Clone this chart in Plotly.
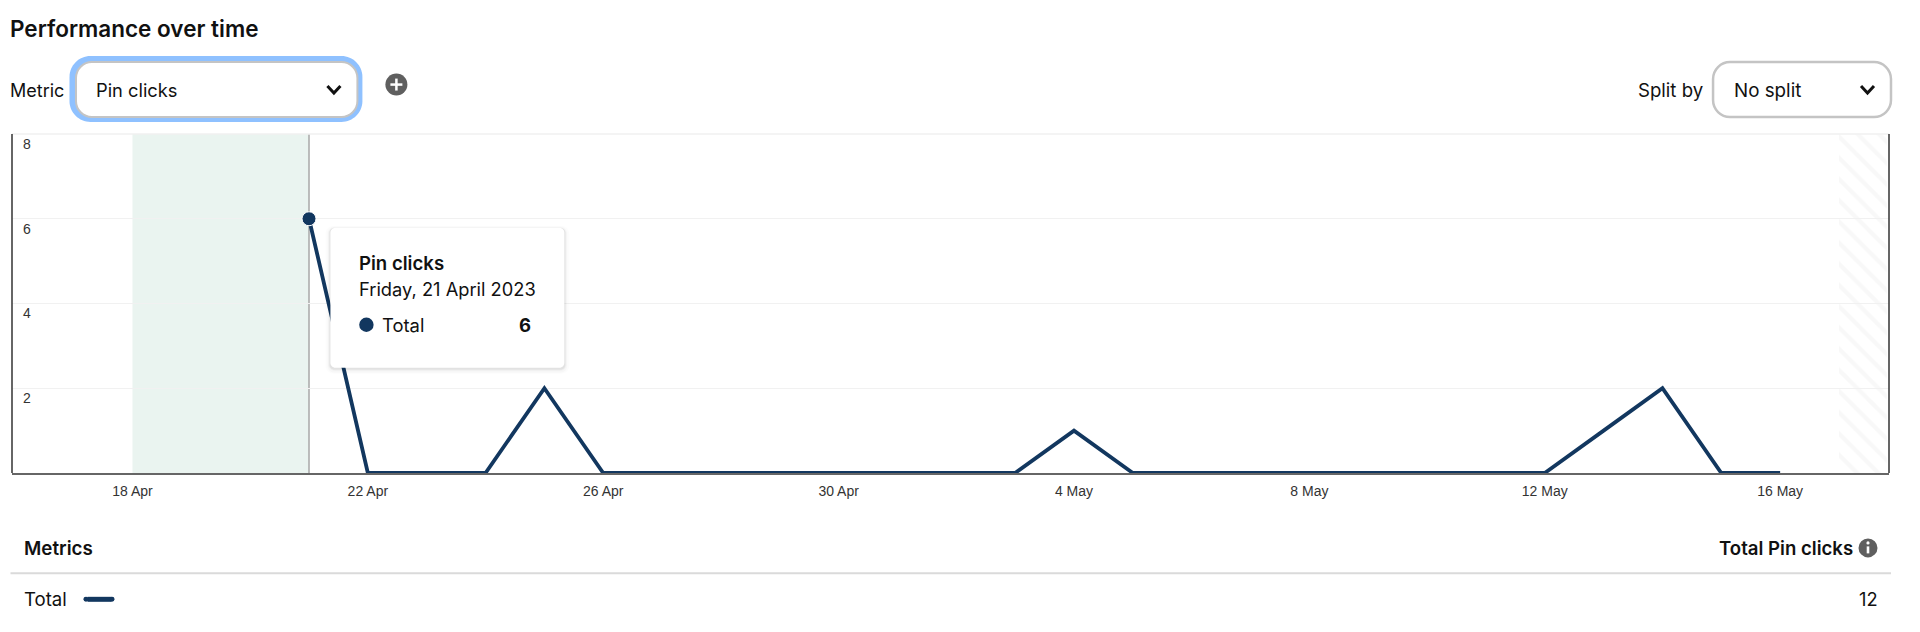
import plotly.graph_objects as go

# ---- data ----
dates = ["2023-04-21", "2023-04-22", "2023-04-23", "2023-04-24", "2023-04-25", "2023-04-26",
         "2023-04-27", "2023-04-28", "2023-04-29", "2023-04-30", "2023-05-01", "2023-05-02",
         "2023-05-03", "2023-05-04", "2023-05-05", "2023-05-06", "2023-05-07", "2023-05-08",
         "2023-05-09", "2023-05-10", "2023-05-11", "2023-05-12", "2023-05-13", "2023-05-14",
         "2023-05-15", "2023-05-16"]
pin_clicks = [6, 0, 0, 0, 2, 0, 0, 0, 0, 0, 0, 0, 0, 1, 0, 0, 0, 0, 0, 0, 0, 0, 1, 2, 0, 0]
x_tick_vals = ["2023-04-18", "2023-04-22", "2023-04-26", "2023-04-30", "2023-05-04",
               "2023-05-08", "2023-05-12", "2023-05-16"]
x_tick_text = ["18 Apr", "22 Apr", "26 Apr", "30 Apr", "4 May", "8 May", "12 May", "16 May"]
y_tick_vals = [2, 4, 6, 8]
x_range = ["2023-04-15 22:52", "2023-05-17 20:24"]
green_band = ["2023-04-18", "2023-04-21"]
hatch_band = ["2023-05-17", "2023-05-17 19:30"]
highlight_date = "2023-04-21"
highlight_value = 6
total_clicks = 12

NAVY = "#12375F"
W, H = 1920, 632
UI = "Inter"
TXT = "#111111"

L, R, T, B = 11.5, 1889, 134, 473.5


def X(x):
    return (x - L) / (R - L)


def Y(y):
    return (B - y) / (B - T)


def rrect(x0, y0, x1, y1, r):
    k = r * 0.45
    pts = [
        f"M{X(x0 + r)},{Y(y0)}", f"L{X(x1 - r)},{Y(y0)}",
        f"C{X(x1 - k)},{Y(y0)} {X(x1)},{Y(y0 + k)} {X(x1)},{Y(y0 + r)}",
        f"L{X(x1)},{Y(y1 - r)}",
        f"C{X(x1)},{Y(y1 - k)} {X(x1 - k)},{Y(y1)} {X(x1 - r)},{Y(y1)}",
        f"L{X(x0 + r)},{Y(y1)}",
        f"C{X(x0 + k)},{Y(y1)} {X(x0)},{Y(y1 - k)} {X(x0)},{Y(y1 - r)}",
        f"L{X(x0)},{Y(y0 + r)}",
        f"C{X(x0)},{Y(y0 + k)} {X(x0 + k)},{Y(y0)} {X(x0 + r)},{Y(y0)}", "Z",
    ]
    return " ".join(pts)


def box(x0, y0, x1, y1, r, fill, line=None, lw=0):
    return dict(type="path", xref="paper", yref="paper", layer="above", path=rrect(x0, y0, x1, y1, r),
                fillcolor=fill, line=dict(color=line or fill, width=lw))


def poly(points, color, lw):
    p = "M" + " L".join(f"{X(a)},{Y(b)}" for a, b in points)
    return dict(type="path", xref="paper", yref="paper", layer="above", path=p,
                line=dict(color=color, width=lw))


def circle(cx, cy, r, fill):
    return dict(type="circle", xref="paper", yref="paper", layer="above",
                x0=X(cx - r), x1=X(cx + r), y0=Y(cy + r), y1=Y(cy - r),
                fillcolor=fill, line=dict(width=0))


def text(x, y, s, size=18.3, weight=400, anchor="left", color=TXT):
    dx = -2 if anchor == "left" else 1.5
    return dict(xref="paper", yref="paper", x=X(x + dx), y=Y(y), text=s, showarrow=False,
                xanchor=anchor, yanchor="middle", align=anchor, borderpad=0,
                font=dict(family=UI, size=size, weight=weight, color=color))


fig = go.Figure()
fig.add_trace(go.Scatter(
    x=[hatch_band[0], hatch_band[1], hatch_band[1], hatch_band[0], hatch_band[0]],
    y=[0, 0, 8, 8, 0], mode="none", fill="toself", fillcolor="rgba(255,255,255,0)",
    fillpattern=dict(shape="\\", size=15, solidity=0.28, fgcolor="#F1F1F1",
                     bgcolor="rgba(255,255,255,0)"),
    hoverinfo="skip", showlegend=False))
fig.add_trace(go.Scatter(x=dates, y=pin_clicks, mode="lines", line=dict(color=NAVY, width=3.8),
                         showlegend=False))
fig.add_trace(go.Scatter(x=[highlight_date], y=[highlight_value], mode="markers",
                         marker=dict(color=NAVY, size=14, line=dict(color="white", width=1)),
                         showlegend=False))

shapes = [
    dict(type="rect", xref="x", yref="paper", x0=green_band[0], x1=green_band[1], y0=0, y1=1,
         fillcolor="#EAF4F0", line=dict(width=0), layer="below"),
    dict(type="line", xref="x", yref="paper", x0=highlight_date, x1=highlight_date, y0=0, y1=1,
         line=dict(color="#A8A8A8", width=1.5), layer="below"),
    dict(type="line", xref="paper", yref="paper", x0=0, x1=1, y0=1, y1=1,
         line=dict(color="#F1F1F1", width=1.5), layer="below"),
    # metric select
    box(69, 56, 362, 122, 21, "#8FC1FF"),
    box(75.5, 62, 357, 117, 16, "white", "#C4C4C4", 2),
    poly([(327, 86), (333.5, 93), (340, 86)], "#111111", 3),
    # add metric icon
    circle(396, 84.5, 11, "#5F5F5F"),
    poly([(390, 84.5), (402, 84.5)], "white", 2.5),
    poly([(396, 78.5), (396, 90.5)], "white", 2.5),
    # split select
    box(1713, 62, 1891, 117, 17, "white", "#C4C4C4", 2.5),
    poly([(1861, 86), (1867.5, 93), (1874, 86)], "#111111", 3),
    # tooltip shadow + body
    box(325, 226, 569, 374, 8, "rgba(0,0,0,0.012)"),
    box(327, 227, 567, 373, 7, "rgba(0,0,0,0.02)"),
    box(328, 228, 566, 371, 6, "rgba(0,0,0,0.03)"),
    box(329, 228, 565, 370, 5, "rgba(0,0,0,0.05)"),
    box(330, 228, 564, 368, 5, "white"),
    circle(366, 325, 7.2, NAVY),
    # table
    poly([(10, 574), (1891, 574)], "#DADADA", 2),
    poly([(87, 600), (111, 600)], NAVY, 5),
    circle(85.5, 600, 2.5, NAVY), circle(111.5, 600, 2.5, NAVY),
    circle(1868, 548.5, 9.5, "#5F5F5F"),
    poly([(1868, 547), (1868, 554)], "white", 2.6),
    circle(1868, 543.5, 1.6, "white"),
]

annotations = [
    text(10, 28.5, "Performance over time", size=22.5, weight=600),
    text(10, 90, "Metric", size=18),
    text(97, 90, "Pin clicks"),
    text(1702, 90, "Split by", anchor="right", size=18.6),
    text(1734.5, 90, "No split", size=18.8),
    text(359.5, 263, "Pin clicks", weight=600, size=18.6),
    text(359.5, 289, "Friday, 21 April 2023", size=18.3),
    text(383, 325, "Total", size=18.4),
    text(530, 325, str(highlight_value), weight=700, anchor="right", size=18.5),
    text(25, 549, "Metrics", weight=600, size=18.8),
    text(25, 600, "Total", size=18.6),
    text(1852, 549, "Total Pin clicks", weight=600, anchor="right", size=18.6),
    text(1877, 600, str(total_clicks), anchor="right"),
]

fig.update_layout(
    width=W, height=H, autosize=False,
    margin=dict(l=L, r=W - R, t=T, b=H - B, pad=0),
    paper_bgcolor="white", plot_bgcolor="white", showlegend=False, hovermode=False,
    shapes=shapes, annotations=annotations,
    xaxis=dict(type="date", range=x_range, tickvals=x_tick_vals, ticktext=x_tick_text,
               showgrid=False, zeroline=False, showline=True, linecolor="#666666", linewidth=2,
               ticks="", ticklabelstandoff=4, layer="below traces",
               tickfont=dict(family="Liberation Sans", size=14, color="#333333")),
    yaxis=dict(range=[0, 8], tickvals=y_tick_vals, showgrid=True, gridcolor="#F1F1F1", gridwidth=1.2,
               zeroline=False, showline=False, ticks="", ticklabelposition="inside",
               ticklabelstandoff=8, ticklabelshift=10,
               tickfont=dict(family="Liberation Sans", size=14, color="#333333")),
)
# outer vertical frame lines of the chart
fig.add_shape(type="line", xref="paper", yref="paper", x0=0, x1=0, y0=0, y1=1,
              line=dict(color="#333333", width=1.5), layer="above")
fig.add_shape(type="line", xref="paper", yref="paper", x0=1, x1=1, y0=0, y1=1,
              line=dict(color="#333333", width=1.5), layer="above")

fig.write_html("out.html", post_script="document.body.style.margin='0';document.body.style.overflow='hidden';",
               config=dict(displayModeBar=False))
